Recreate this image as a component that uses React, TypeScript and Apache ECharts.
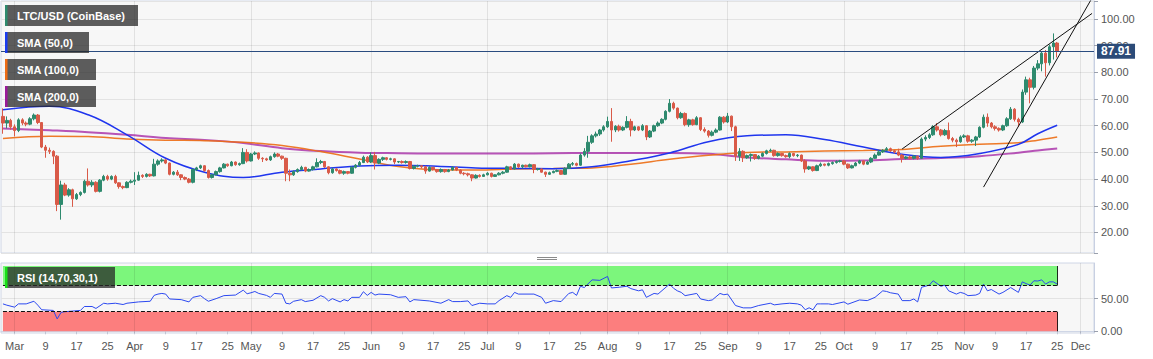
import React, { useEffect, useRef } from 'react';
import * as echarts from 'echarts';

// ---------- categories (daily, 2020-02-27 .. 2020-12-04) ----------
const START_UTC = Date.UTC(2020, 1, 27);
const DAY_COUNT = 282;
const MONTHS = ['Jan', 'Feb', 'Mar', 'Apr', 'May', 'Jun', 'Jul', 'Aug', 'Sep', 'Oct', 'Nov', 'Dec'];
const LABEL_DAYS = [1, 9, 17, 25];
const MONTH_STARTS = ['03-01', '04-01', '05-01', '06-01', '07-01', '08-01', '09-01', '10-01', '11-01', '12-01'];
const pad = (n: number) => String(n).padStart(2, '0');
const categories: string[] = [];
for (let i = 0; i < DAY_COUNT; i++) {
  const d = new Date(START_UTC + i * 86400000);
  categories.push(`${pad(d.getUTCMonth() + 1)}-${pad(d.getUTCDate())}`);
}

// ---------- LTC/USD daily candles (Feb 27 .. Nov 25) ----------
const opens = [
  63.5, 61.0, 62.0,
  59.6, 58.2, 62.2, 61.0, 60.6, 62.6, 64.0, 61.2, 52.0, 50.8, 50.4, 48.6, 30.5, 37.8, 34.0, 36.0, 32.6, 34.2, 35.0, 39.2, 37.8, 38.8, 35.4, 39.6, 41.0, 40.0, 41.0, 38.6, 37.2, 36.8, 38.8,
  39.2, 39.6, 41.4, 41.0, 41.8, 41.2, 45.6, 46.8, 47.2, 46.0, 41.8, 42.6, 41.6, 40.6, 40.0, 38.8, 43.6, 44.2, 45.0, 43.2, 40.6, 41.6, 42.8, 44.2, 45.6, 45.0, 46.4, 45.4, 45.8, 50.0,
  46.8, 49.4, 49.8, 47.8, 47.6, 47.2, 48.4, 49.4, 48.6, 47.8, 42.2, 41.6, 42.8, 43.6, 44.4, 43.0, 43.6, 44.6, 46.2, 46.6, 44.6, 42.4, 43.8, 43.2, 42.2, 42.8, 42.2, 44.4, 45.2, 46.2, 48.2,
  46.4, 48.8, 46.0, 47.4, 48.0, 47.4, 47.6, 46.4, 46.6, 46.2, 46.6, 44.0, 44.8, 45.0, 44.6, 43.0, 44.4, 43.6, 42.8, 43.6, 42.8, 43.4, 44.4, 43.4, 42.2, 42.0, 41.6, 40.4, 41.4, 41.0,
  41.6, 42.2, 41.0, 41.6, 42.2, 42.6, 44.6, 43.8, 45.6, 44.6, 45.2, 44.6, 45.4, 43.6, 43.8, 42.6, 41.8, 42.4, 42.9, 43.2, 41.8, 44.0, 45.6, 45.8, 45.2, 49.0, 50.4, 53.8, 56.2, 56.9, 58.4,
  59.6, 61.6, 58.4, 59.8, 58.4, 59.4, 61.6, 58.4, 59.6, 58.4, 60.0, 55.8, 58.0, 60.0, 61.0, 62.4, 65.4, 68.4, 66.6, 63.0, 64.6, 60.4, 62.2, 60.4, 63.0, 58.6, 58.0, 56.4, 57.6, 58.4, 63.2,
  61.4, 63.6, 59.6, 48.6, 50.4, 48.0, 48.8, 49.2, 47.8, 48.6, 49.6, 50.6, 50.8, 48.8, 49.6, 48.8, 48.4, 49.6, 48.8, 49.0, 46.8, 43.8, 44.6, 43.2, 45.0, 45.6, 45.2, 45.8, 46.2, 46.6,
  46.8, 45.6, 44.2, 45.0, 46.0, 46.8, 45.6, 46.4, 47.8, 49.0, 50.2, 50.8, 51.4, 50.6, 50.2, 49.0, 47.8, 48.3, 47.8, 48.6, 47.8, 55.0, 55.6, 56.6, 59.6, 58.4, 56.6, 58.2, 55.2, 54.6, 54.0,
  55.8, 56.2, 54.2, 54.6, 55.8, 59.4, 63.2, 61.0, 59.6, 59.0, 58.4, 60.0, 62.6, 66.2, 62.4, 61.4, 72.6, 77.2, 74.4, 81.6, 83.2, 87.2, 83.6, 89.6, 91.0,
];
const closes = [
  61.0, 62.0, 59.6,
  58.2, 62.2, 61.0, 60.6, 62.6, 64.0, 61.2, 52.0, 50.8, 50.4, 48.6, 30.5, 37.8, 34.0, 36.0, 32.6, 34.2, 35.0, 39.2, 37.8, 38.8, 35.4, 39.6, 41.0, 40.0, 41.0, 38.6, 37.2, 36.8, 38.8, 39.2,
  39.6, 41.4, 41.0, 41.8, 41.2, 45.6, 46.8, 47.2, 46.0, 41.8, 42.6, 41.6, 40.6, 40.0, 38.8, 43.6, 44.2, 45.0, 43.2, 40.6, 41.6, 42.8, 44.2, 45.6, 45.0, 46.4, 45.4, 45.8, 50.0, 46.8,
  49.4, 49.8, 47.8, 47.6, 47.2, 48.4, 49.4, 48.6, 47.8, 42.2, 41.6, 42.8, 43.6, 44.4, 43.0, 43.6, 44.6, 46.2, 46.6, 44.6, 42.4, 43.8, 43.2, 42.2, 42.8, 42.2, 44.4, 45.2, 46.2, 48.2, 46.4,
  48.8, 46.0, 47.4, 48.0, 47.4, 47.6, 46.4, 46.6, 46.2, 46.6, 44.0, 44.8, 45.0, 44.6, 43.0, 44.4, 43.6, 42.8, 43.6, 42.8, 43.4, 44.4, 43.4, 42.2, 42.0, 41.6, 40.4, 41.4, 41.0, 41.6,
  42.2, 41.0, 41.6, 42.2, 42.6, 44.6, 43.8, 45.6, 44.6, 45.2, 44.6, 45.4, 43.6, 43.8, 42.6, 41.8, 42.4, 42.9, 43.2, 41.8, 44.0, 45.6, 45.8, 45.2, 49.0, 50.4, 53.8, 56.2, 56.9, 58.4, 59.6,
  61.6, 58.4, 59.8, 58.4, 59.4, 61.6, 58.4, 59.6, 58.4, 60.0, 55.8, 58.0, 60.0, 61.0, 62.4, 65.4, 68.4, 66.6, 63.0, 64.6, 60.4, 62.2, 60.4, 63.0, 58.6, 58.0, 56.4, 57.6, 58.4, 63.2, 61.4,
  63.6, 59.6, 48.6, 50.4, 48.0, 48.8, 49.2, 47.8, 48.6, 49.6, 50.6, 50.8, 48.8, 49.6, 48.8, 48.4, 49.6, 48.8, 49.0, 46.8, 43.8, 44.6, 43.2, 45.0, 45.6, 45.2, 45.8, 46.2, 46.6, 46.8,
  45.6, 44.2, 45.0, 46.0, 46.8, 45.6, 46.4, 47.8, 49.0, 50.2, 50.8, 51.4, 50.6, 50.2, 49.0, 47.8, 48.3, 47.8, 48.6, 47.8, 55.0, 55.6, 56.6, 59.6, 58.4, 56.6, 58.2, 55.2, 54.6, 54.0, 55.8,
  56.2, 54.2, 54.6, 55.8, 59.4, 63.2, 61.0, 59.6, 59.0, 58.4, 60.0, 62.6, 66.2, 62.4, 61.4, 72.6, 77.2, 74.4, 81.6, 83.2, 87.2, 83.6, 89.6, 91.0, 87.91,
];
const highs = [
  66.5, 63.5, 62.6,
  60.5, 62.8, 62.8, 61.6, 63.2, 64.6, 64.4, 61.4, 52.8, 51.8, 50.8, 49.0, 39.4, 38.6, 36.6, 36.4, 34.8, 35.4, 39.8, 44.0, 39.6, 39.2, 40.0, 41.6, 41.6, 41.4, 41.6, 38.8, 37.6, 39.2, 39.8,
  42.6, 42.8, 41.8, 42.2, 42.0, 47.6, 47.4, 47.8, 47.4, 46.2, 43.0, 43.4, 41.8, 41.0, 40.4, 44.0, 44.6, 45.4, 45.2, 43.6, 42.0, 43.2, 44.6, 46.0, 45.8, 46.8, 46.6, 46.2, 51.6, 51.2,
  49.8, 50.4, 50.0, 48.2, 48.0, 48.8, 50.0, 49.8, 48.8, 48.0, 43.6, 43.2, 44.0, 45.0, 44.6, 44.0, 45.0, 47.8, 47.2, 46.8, 44.8, 44.2, 44.0, 43.6, 43.2, 43.0, 44.8, 45.6, 46.8, 48.8, 48.6,
  50.0, 50.2, 47.8, 48.4, 48.2, 48.0, 47.8, 46.8, 47.0, 47.0, 46.8, 45.2, 45.4, 45.2, 45.0, 44.8, 44.6, 43.8, 44.0, 43.8, 43.8, 44.8, 44.6, 43.6, 42.6, 42.4, 41.8, 41.8, 41.8, 42.0,
  42.6, 42.4, 41.8, 42.6, 43.0, 45.0, 44.8, 46.0, 45.8, 45.4, 45.4, 45.8, 45.6, 44.2, 44.0, 42.8, 42.8, 43.2, 43.6, 43.4, 44.4, 46.0, 46.4, 46.2, 49.6, 51.6, 56.2, 56.8, 57.8, 58.8, 60.2,
  63.4, 66.6, 60.2, 60.4, 59.8, 63.6, 62.6, 60.0, 59.8, 60.6, 60.2, 58.4, 60.4, 61.6, 62.8, 65.8, 70.0, 69.0, 66.8, 65.2, 65.0, 62.6, 62.6, 63.6, 63.2, 59.4, 58.4, 58.2, 59.0, 63.6, 63.6,
  64.8, 63.8, 60.0, 51.6, 50.8, 49.2, 49.6, 49.4, 49.0, 50.0, 51.0, 51.4, 51.0, 50.0, 49.8, 49.2, 50.0, 49.8, 49.4, 49.2, 47.4, 45.0, 44.8, 45.4, 46.2, 45.8, 46.2, 46.6, 47.0, 47.2,
  47.2, 45.8, 45.4, 46.4, 47.2, 47.0, 46.8, 48.2, 49.6, 51.0, 51.2, 52.0, 51.8, 51.0, 51.4, 49.4, 48.6, 48.8, 49.0, 48.8, 55.6, 56.4, 57.2, 60.2, 61.0, 58.8, 58.8, 61.2, 55.8, 55.2, 56.4,
  56.8, 56.6, 55.0, 56.2, 59.8, 64.2, 64.6, 61.4, 60.2, 59.4, 60.4, 63.2, 67.0, 66.6, 63.0, 73.6, 78.4, 78.0, 82.4, 84.6, 88.0, 88.4, 90.4, 94.6, 91.4,
];
const lows = [
  57.0, 59.0, 58.5,
  56.0, 57.6, 60.2, 59.8, 60.2, 62.0, 60.6, 51.6, 48.0, 49.4, 45.6, 28.0, 24.8, 33.6, 33.4, 29.6, 32.2, 33.6, 34.6, 37.2, 37.0, 35.0, 35.0, 39.2, 39.4, 39.6, 38.2, 36.4, 36.2, 36.6, 38.4,
  37.8, 39.4, 40.4, 40.6, 40.8, 41.0, 45.0, 46.2, 45.6, 41.4, 41.4, 41.2, 39.6, 39.6, 38.4, 38.4, 43.0, 43.8, 42.8, 40.2, 40.2, 41.4, 42.4, 44.0, 44.6, 44.8, 45.0, 45.0, 45.6, 46.2,
  46.6, 49.0, 47.2, 46.4, 46.8, 46.8, 48.0, 48.2, 47.2, 39.2, 39.2, 41.2, 42.4, 43.2, 42.6, 42.8, 43.2, 44.4, 45.6, 44.2, 41.8, 42.0, 42.8, 41.8, 41.6, 41.8, 42.0, 44.0, 44.8, 46.0, 46.0,
  46.0, 43.6, 45.6, 46.8, 47.0, 47.0, 45.6, 46.0, 45.8, 45.8, 43.6, 43.6, 44.4, 44.0, 42.0, 42.8, 43.2, 42.4, 42.4, 42.4, 42.6, 43.2, 43.0, 41.8, 41.4, 41.0, 39.2, 40.2, 40.6, 40.8,
  41.4, 40.6, 40.8, 41.4, 41.8, 42.4, 43.4, 43.6, 44.2, 44.0, 44.4, 44.4, 42.2, 43.2, 42.4, 40.8, 41.6, 42.2, 42.6, 41.6, 41.6, 43.8, 45.0, 44.8, 45.0, 48.4, 48.0, 53.2, 55.6, 56.2, 57.8,
  59.2, 54.0, 57.6, 57.8, 58.0, 59.0, 56.0, 58.0, 58.0, 58.0, 54.6, 55.4, 57.6, 59.6, 60.6, 62.0, 65.0, 66.0, 62.4, 62.6, 59.8, 59.6, 60.0, 60.2, 58.0, 57.4, 55.6, 56.0, 57.2, 58.2, 60.8,
  61.0, 58.0, 46.8, 46.8, 46.4, 47.6, 46.6, 47.2, 47.4, 48.2, 49.2, 50.2, 48.4, 48.4, 48.4, 48.0, 47.8, 48.4, 48.2, 46.4, 42.4, 43.4, 42.8, 43.0, 44.6, 44.8, 44.8, 45.4, 45.8, 46.2,
  45.2, 43.8, 44.0, 44.8, 45.6, 45.2, 45.4, 46.0, 47.6, 48.8, 49.8, 50.4, 50.2, 49.6, 48.6, 46.2, 47.4, 47.4, 47.4, 47.2, 47.6, 54.2, 55.0, 56.2, 57.8, 56.0, 56.2, 54.8, 53.8, 52.0, 53.6,
  55.4, 53.6, 53.6, 52.4, 55.4, 59.0, 59.6, 59.0, 58.2, 57.8, 58.0, 59.6, 62.2, 61.6, 59.6, 61.0, 71.6, 68.4, 73.6, 80.8, 80.4, 78.4, 82.6, 84.8, 85.6,
];
const LAST_PRICE = 87.91;

// ---------- moving averages (read at sample dates) ----------
const smaDates = ['02-27', '03-10', '03-20', '03-30', '04-09', '04-19', '04-29', '05-09', '05-19', '05-29', '06-08', '06-18', '06-28', '07-08', '07-18', '07-28', '08-07', '08-17', '08-27', '09-06', '09-16', '09-26', '10-06', '10-16', '10-26', '11-05', '11-15', '11-20', '11-25'];
const sma50 = [66.0, 67.3, 64.1, 56.6, 47.8, 42.6, 40.6, 42.6, 43.8, 44.9, 45.2, 44.8, 44.2, 44.0, 43.9, 44.6, 46.9, 49.8, 54.0, 56.2, 56.6, 54.8, 52.0, 49.3, 48.1, 49.6, 53.0, 57.0, 60.2];
const sma100 = [55.2, 56.1, 56.0, 55.0, 54.6, 54.4, 53.8, 52.6, 50.3, 47.5, 44.7, 43.5, 43.4, 43.8, 44.0, 44.2, 45.6, 47.4, 48.9, 50.0, 50.2, 50.5, 50.7, 51.1, 52.3, 53.1, 53.6, 54.6, 55.8];
const sma200 = [59.0, 58.3, 57.6, 56.6, 55.4, 54.7, 53.5, 51.6, 50.5, 49.9, 49.7, 49.6, 49.6, 49.6, 49.7, 49.8, 49.8, 49.8, 49.5, 48.1, 47.4, 46.9, 47.0, 47.5, 47.9, 48.6, 49.9, 50.7, 51.5];

// ---------- trend lines ----------
const upperTrendDates = ['10-16', '12-04'];
const upperTrendValues = [51.3, 102.1];
const lowerTrendDates = ['11-06', '12-04'];
const lowerTrendValues = [37.0, 107.9];

// ---------- RSI (14) ----------
const rsiDates = ['02-27', '02-28', '03-01', '03-02', '03-04', '03-06', '03-07', '03-08', '03-11', '03-12', '03-13', '03-14', '03-18', '03-19', '03-21', '03-22', '03-24', '03-25', '03-27', '03-29', '03-30',
  '04-02', '04-05', '04-06', '04-07', '04-08', '04-09', '04-10', '04-13', '04-15', '04-16', '04-18', '04-19', '04-20', '04-22', '04-24', '04-27', '04-29', '04-30',
  '05-01', '05-02', '05-03', '05-05', '05-06', '05-07', '05-09', '05-10', '05-11', '05-12', '05-14', '05-15', '05-17', '05-19', '05-20', '05-21', '05-22', '05-24', '05-25', '05-26', '05-27', '05-29', '05-30', '05-31',
  '06-01', '06-02', '06-03', '06-06', '06-08', '06-10', '06-11', '06-12', '06-16', '06-19', '06-21', '06-22', '06-24', '06-26', '06-27', '06-29',
  '07-01', '07-03', '07-04', '07-06', '07-07', '07-08', '07-09', '07-13', '07-15', '07-16', '07-18', '07-20', '07-22', '07-23', '07-24', '07-25', '07-26', '07-28', '07-30',
  '08-01', '08-02', '08-04', '08-06', '08-07', '08-09', '08-10', '08-11', '08-13', '08-14', '08-17', '08-18', '08-19', '08-20', '08-21', '08-24', '08-25', '08-27', '08-28', '08-30', '08-31',
  '09-01', '09-03', '09-05', '09-07', '09-09', '09-12', '09-13', '09-15', '09-17', '09-19', '09-20', '09-21', '09-22', '09-23', '09-24', '09-25', '09-27', '09-28',
  '10-01', '10-02', '10-05', '10-07', '10-09', '10-11', '10-12', '10-13', '10-15', '10-16', '10-18', '10-19', '10-20', '10-21', '10-23', '10-24', '10-26', '10-27', '10-28', '10-30', '10-31',
  '11-01', '11-02', '11-04', '11-05', '11-06', '11-07', '11-08', '11-10', '11-11', '11-13', '11-15', '11-16', '11-17', '11-18', '11-19', '11-20', '11-21', '11-22', '11-23', '11-24', '11-25'];
const rsiValues = [42, 40, 37, 42, 42, 46, 40, 33, 32, 19, 29, 30, 32, 38, 38, 35, 43, 42, 43, 41, 43,
  45, 46, 55, 57, 58, 57, 49.5, 48.5, 45, 52, 54.6, 50, 46, 50, 54.6, 55.5, 63, 57.5,
  59, 61, 58, 55, 52, 58, 57, 43, 42, 46, 48.5, 45.5, 47.5, 54.6, 52, 46.5, 50, 45, 48.5, 46.5, 52, 52, 60.6, 55,
  59.6, 55.5, 57, 56, 52, 53, 45, 48.5, 46.5, 43, 48.5, 45.5, 45.5, 46.5, 39.5, 43,
  42, 42, 47, 54.6, 52, 59.6, 57, 57, 52, 43, 47, 45.5, 58, 59.6, 55, 69, 67, 78.8, 78,
  84, 66.4, 67.5, 69, 65.4, 62, 63.5, 52, 58, 57, 72.3, 66, 62, 59.6, 54.6, 58, 49.5, 47, 48, 58, 56,
  57, 39.5, 35.9, 35.9, 39.5, 43, 40.5, 42, 43, 42, 40, 33, 36, 33, 42, 42, 42, 41,
  45, 41.5, 48, 47, 52, 62, 61, 59, 57, 47, 47, 49.5, 45, 67.4, 70.7, 77.4, 69, 70.7, 62, 57, 59.6,
  58, 54.6, 55.5, 58, 72.3, 62, 64, 57, 59.6, 67, 59.6, 75.7, 73, 70.7, 77.4, 77, 78.8, 72.3, 75.7, 75.7, 72.3];
const RSI_UPPER = 70;
const RSI_LOWER = 30;
const RSI_END = '11-25';

// ---------- styling ----------
const FONT = '"Liberation Sans", Arial, sans-serif';
const UP = '#2e8a6e';
const DOWN = '#d95a48';
const GRID_LINE = 'rgba(0,0,0,0.085)';

const dayOf = (v: string) => Number(v.split('-')[1]);
const monthOf = (v: string) => Number(v.split('-')[0]);
const showLabel = (_i: number, v: string) => LABEL_DAYS.includes(dayOf(v));

function legendBox(y: number, w: number, text: string, stripe: string) {
  return [
    { type: 'rect', z: 100, shape: { x: 5, y, width: w, height: 21 }, style: { fill: 'rgba(40,40,40,0.75)' } },
    { type: 'rect', z: 101, shape: { x: 5, y, width: 2.5, height: 21 }, style: { fill: stripe } },
    {
      type: 'text', z: 102, x: 17, y: y + 11,
      style: { text, fill: '#ffffff', font: `bold 11px ${FONT}`, verticalAlign: 'middle', textVerticalAlign: 'middle' },
    },
  ];
}

export default function App() {
  const ref = useRef<HTMLDivElement>(null);

  useEffect(() => {
    if (!ref.current) return;
    const chart = echarts.init(ref.current, undefined, { renderer: 'svg' });

    const candleData = opens.map((o, i) => [o, closes[i], lows[i], highs[i]]);
    const monthLines = MONTH_STARTS.map((d) => ({ xAxis: d }));

    const option: any = {
      animation: false,
      backgroundColor: '#ffffff',
      textStyle: { fontFamily: FONT },
      grid: [
        { left: 1, right: 59, top: 1, height: 252, show: true, backgroundColor: '#f7f7f7', borderColor: '#cfd6e6', borderWidth: 1 },
        { left: 1, right: 59, top: 263, height: 70, show: true, backgroundColor: '#f7f7f7', borderColor: '#cfd6e6', borderWidth: 1 },
      ],
      xAxis: [
        {
          type: 'category', gridIndex: 0, data: categories, boundaryGap: true,
          axisLine: { show: false }, axisTick: { show: false }, axisLabel: { show: false }, splitLine: { show: false },
        },
        {
          type: 'category', gridIndex: 1, data: categories, boundaryGap: true,
          axisLine: { show: true, lineStyle: { color: '#cfd6e6' } },
          axisTick: { show: true, interval: showLabel, alignWithLabel: true, length: 3, lineStyle: { color: '#c0c6d4' } },
          axisLabel: {
            interval: showLabel, color: '#555', fontSize: 11, fontFamily: FONT, margin: 7,
            formatter: (v: string) => (dayOf(v) === 1 ? MONTHS[monthOf(v) - 1] : String(dayOf(v))),
          },
          splitLine: { show: false },
        },
      ],
      yAxis: [
        {
          type: 'value', gridIndex: 0, position: 'right', min: 12.3, max: 106.75, splitNumber: 9,
          axisLine: { show: true, lineStyle: { color: '#c8d0e2' } },
          axisTick: { show: true, length: 4, lineStyle: { color: '#9aa0ad' } },
          axisLabel: {
            color: '#555', fontSize: 11, fontFamily: FONT, margin: 7,
            formatter: (v: number) => (Math.abs(v - Math.round(v / 10) * 10) < 1e-6 ? v.toFixed(2) : ''),
          },
          splitLine: { show: true, lineStyle: { color: '#e3e3e3' } },
        },
        {
          type: 'value', gridIndex: 1, position: 'right', min: -2.6, max: 104.6, splitNumber: 2,
          axisLine: { show: true, lineStyle: { color: '#c8d0e2' } },
          axisTick: { show: true, length: 4, customValues: [0, 50], lineStyle: { color: '#9aa0ad' } },
          axisLabel: {
            color: '#555', fontSize: 11, fontFamily: FONT, margin: 7,
            formatter: (v: number) => (v === 0 || v === 50 ? v.toFixed(2) : ''),
          },
          splitLine: { show: true, lineStyle: { color: '#e3e3e3' } },
        },
      ],
      series: [
        {
          name: 'LTC/USD', type: 'candlestick', xAxisIndex: 0, yAxisIndex: 0, z: 3,
          data: candleData, barWidth: 3,
          itemStyle: { color: UP, color0: DOWN, borderColor: UP, borderColor0: DOWN, borderWidth: 1 },
          markLine: {
            silent: true, symbol: ['none', 'none'], z: 10,
            data: [{ yAxis: LAST_PRICE }],
            lineStyle: { color: '#2a4c80', width: 1, type: 'solid' },
            label: {
              show: true, position: 'end', distance: 3, formatter: LAST_PRICE.toFixed(2),
              backgroundColor: '#2c4b78', color: '#ffffff', fontWeight: 'bold', fontSize: 12, fontFamily: FONT,
              padding: [1, 4, 1, 4], lineHeight: 13,
            },
          },
        },
        {
          name: 'grid-main', type: 'line', xAxisIndex: 0, yAxisIndex: 0, z: 1, data: [],
          markLine: {
            silent: true, symbol: ['none', 'none'], z: 1, label: { show: false },
            lineStyle: { color: GRID_LINE, width: 1, type: 'solid' }, data: monthLines,
          },
        },
        {
          name: 'SMA (200,0)', type: 'line', xAxisIndex: 0, yAxisIndex: 0, z: 2, smooth: 0.4, symbol: 'none',
          data: smaDates.map((d, i) => [d, sma200[i]]),
          lineStyle: { color: '#a62aa6', width: 2, opacity: 0.8 },
        },
        {
          name: 'SMA (100,0)', type: 'line', xAxisIndex: 0, yAxisIndex: 0, z: 2, smooth: 0.4, symbol: 'none',
          data: smaDates.map((d, i) => [d, sma100[i]]),
          lineStyle: { color: '#ec6c12', width: 1.5, opacity: 0.9 },
        },
        {
          name: 'SMA (50,0)', type: 'line', xAxisIndex: 0, yAxisIndex: 0, z: 2, smooth: 0.4, symbol: 'none',
          data: smaDates.map((d, i) => [d, sma50[i]]),
          lineStyle: { color: '#1f35ee', width: 1.5 },
        },
        {
          name: 'upper trend', type: 'line', xAxisIndex: 0, yAxisIndex: 0, z: 4, symbol: 'none', clip: true,
          data: upperTrendDates.map((d, i) => [d, upperTrendValues[i]]),
          lineStyle: { color: '#111', width: 1 },
        },
        {
          name: 'lower trend', type: 'line', xAxisIndex: 0, yAxisIndex: 0, z: 4, symbol: 'none', clip: true,
          data: lowerTrendDates.map((d, i) => [d, lowerTrendValues[i]]),
          lineStyle: { color: '#111', width: 1 },
        },
        {
          name: 'grid-rsi', type: 'line', xAxisIndex: 1, yAxisIndex: 1, z: 1, data: [],
          markLine: {
            silent: true, symbol: ['none', 'none'], z: 1, label: { show: false },
            lineStyle: { color: GRID_LINE, width: 1, type: 'solid' }, data: monthLines,
          },
        },
        {
          name: 'RSI', type: 'line', xAxisIndex: 1, yAxisIndex: 1, z: 3, symbol: 'none',
          data: rsiDates.map((d, i) => [d, rsiValues[i]]),
          lineStyle: { color: '#2b48f0', width: 1 },
          markArea: {
            silent: true, z: 1,
            data: [
              [{ xAxis: categories[0], yAxis: RSI_UPPER, itemStyle: { color: 'rgba(110,245,110,0.9)' } }, { xAxis: RSI_END, yAxis: 100 }],
              [{ xAxis: categories[0], yAxis: 0, itemStyle: { color: 'rgba(252,112,112,0.9)' } }, { xAxis: RSI_END, yAxis: RSI_LOWER }],
            ],
          },
          markLine: {
            silent: true, symbol: ['none', 'none'], z: 4, label: { show: false },
            data: [
              [{ xAxis: categories[0], yAxis: RSI_UPPER, lineStyle: { color: '#111', type: 'dashed', width: 1 } }, { xAxis: RSI_END, yAxis: RSI_UPPER }],
              [{ xAxis: categories[0], yAxis: RSI_LOWER, lineStyle: { color: '#111', type: 'dashed', width: 1 } }, { xAxis: RSI_END, yAxis: RSI_LOWER }],
              [{ xAxis: RSI_END, yAxis: RSI_UPPER, lineStyle: { color: '#1d2a1d', type: 'solid', width: 1 } }, { xAxis: RSI_END, yAxis: 100 }],
              [{ xAxis: RSI_END, yAxis: 0, lineStyle: { color: '#2a1a1a', type: 'solid', width: 1 } }, { xAxis: RSI_END, yAxis: RSI_LOWER }],
            ],
          },
        },
      ],
      graphic: [
        ...legendBox(5, 133, 'LTC/USD (CoinBase)', '#2e8b6e'),
        ...legendBox(32, 84, 'SMA (50,0)', '#1a3cf0'),
        ...legendBox(59, 91, 'SMA (100,0)', '#ee6c14'),
        ...legendBox(86, 91, 'SMA (200,0)', '#9a1a9a'),
        ...legendBox(267, 110, 'RSI (14,70,30,1)', '#18e018'),
        { type: 'line', z: 50, shape: { x1: 537, y1: 257.5, x2: 557, y2: 257.5 }, style: { stroke: '#8a8a8a', lineWidth: 1 } },
        { type: 'line', z: 50, shape: { x1: 537, y1: 259.5, x2: 557, y2: 259.5 }, style: { stroke: '#8a8a8a', lineWidth: 1 } },
      ],
    };

    chart.setOption(option);
    return () => chart.dispose();
  }, []);

  return (
    <div
      ref={ref}
      style={{ position: 'fixed', left: 0, top: 0, width: 1153, height: 359, background: '#ffffff' }}
    />
  );
}
